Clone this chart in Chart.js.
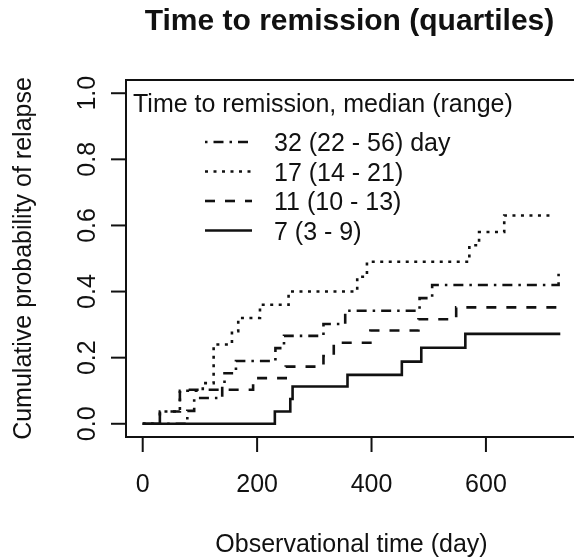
<!DOCTYPE html>
<html>
<head>
<meta charset="utf-8">
<title>Time to remission (quartiles)</title>
<script src="https://cdn.jsdelivr.net/npm/chart.js@4"></script>
<style>
  html, body { margin: 0; padding: 0; background: #fff; overflow: hidden; }
  #wrap { width: 574px; height: 560px; overflow: hidden; }
  canvas { display: block; }
</style>
</head>
<body>
<div id="wrap"><canvas id="kmChart" width="580" height="560"></canvas></div>
<script>
// index.html — cumulative relapse curves by time-to-remission quartile

// ─── Data ─────────────────────────────────────────────────────────────────────
const seriesLabels = ["32 (22 - 56) day", "17 (14 - 21)", "11 (10 - 13)", "7 (3 - 9)"];

const q4Times = [0, 78, 90, 139, 143, 163, 232, 247, 316, 354, 484, 506, 727];
const q4Prob  = [0, 0.039, 0.078, 0.115, 0.153, 0.19, 0.229, 0.266, 0.302, 0.342, 0.38, 0.42, 0.46];

const q3Times = [0, 30, 65, 105, 124, 156, 167, 205, 255, 375, 392, 571, 588, 632, 720];
const q3Prob  = [0, 0.037, 0.1, 0.123, 0.24, 0.28, 0.32, 0.36, 0.4, 0.445, 0.49, 0.54, 0.58, 0.63, 0.63];

const q2Times = [0, 30, 65, 193, 250, 316, 334, 398, 482, 548, 730];
const q2Prob  = [0, 0.037, 0.103, 0.138, 0.173, 0.205, 0.245, 0.282, 0.316, 0.352, 0.352];

const q1Times = [0, 231, 258, 262, 358, 453, 487, 564, 730];
const q1Prob  = [0, 0.037, 0.075, 0.113, 0.148, 0.188, 0.23, 0.272, 0.272];

const xTicks = [0, 200, 400, 600];
const xTickLabels = ["0", "200", "400", "600"];
const yTicks = [0, 0.2, 0.4, 0.6, 0.8, 1.0];
const yTickLabels = ["0.0", "0.2", "0.4", "0.6", "0.8", "1.0"];

const TITLE = "Time to remission (quartiles)";
const X_TITLE = "Observational time (day)";
const Y_TITLE = "Cumulative probability of relapse";
const LEGEND_TITLE = "Time to remission, median (range)";

// ─── Styles ───────────────────────────────────────────────────────────────────
const FONT = "'Liberation Sans', Arial, Helvetica, sans-serif";
const INK = "#111";
const DASHES = [[2.5, 6, 10, 6], [3, 5.5], [10, 10], []];

function toPoints(times, probs) {
  return times.map((t, i) => ({ x: t, y: probs[i] }));
}

const curves = [
  toPoints(q4Times, q4Prob),
  toPoints(q3Times, q3Prob),
  toPoints(q2Times, q2Prob),
  toPoints(q1Times, q1Prob),
];

// ─── Axes, box, titles and legend (R-style) ──────────────────────────────────
const rFrame = {
  id: "rFrame",
  afterDraw(chart) {
    const { ctx, chartArea: a, scales } = chart;
    const xs = scales.x, ys = scales.y;
    ctx.save();
    ctx.strokeStyle = INK;
    ctx.fillStyle = INK;
    ctx.lineWidth = 2;
    ctx.setLineDash([]);

    // box
    ctx.strokeRect(a.left, a.top, a.right - a.left, a.bottom - a.top);

    // x axis
    ctx.font = `25px ${FONT}`;
    ctx.textAlign = "center";
    ctx.textBaseline = "alphabetic";
    xTicks.forEach((v, i) => {
      const px = xs.getPixelForValue(v);
      ctx.beginPath();
      ctx.moveTo(px, a.bottom);
      ctx.lineTo(px, a.bottom + 15);
      ctx.stroke();
      ctx.fillText(xTickLabels[i], px, 492);
    });

    // y axis
    yTicks.forEach((v, i) => {
      const py = ys.getPixelForValue(v);
      ctx.beginPath();
      ctx.moveTo(a.left - 15, py);
      ctx.lineTo(a.left, py);
      ctx.stroke();
      ctx.save();
      ctx.translate(95, py);
      ctx.rotate(-Math.PI / 2);
      ctx.fillText(yTickLabels[i], 0, 0);
      ctx.restore();
    });

    // axis titles
    const midX = (a.left + a.right) / 2;
    const midY = (a.top + a.bottom) / 2;
    ctx.fillText(X_TITLE, midX, 552);
    ctx.save();
    ctx.translate(31, midY);
    ctx.rotate(-Math.PI / 2);
    ctx.fillText(Y_TITLE, 0, 0);
    ctx.restore();

    // main title
    ctx.font = `bold 30px ${FONT}`;
    ctx.fillText(TITLE, midX - 2, 30);

    // legend
    ctx.font = `25px ${FONT}`;
    ctx.textAlign = "left";
    ctx.fillText(LEGEND_TITLE, 133, 112);
    const rows = [151, 180.5, 210, 239.5];
    chart.data.datasets.forEach((ds, i) => {
      const cy = rows[i] - 9;
      ctx.save();
      ctx.lineWidth = ds.borderWidth;
      ctx.setLineDash(ds.borderDash);
      ctx.beginPath();
      ctx.moveTo(205, cy);
      ctx.lineTo(252, cy);
      ctx.stroke();
      ctx.restore();
      ctx.fillText(ds.label, 274, rows[i]);
    });
    ctx.restore();
  }
};

// ─── Chart ────────────────────────────────────────────────────────────────────
new Chart(document.getElementById("kmChart"), {
  type: "line",
  data: {
    datasets: curves.map((pts, i) => ({
      label: seriesLabels[i],
      data: pts,
      stepped: "before",
      borderColor: INK,
      borderWidth: 2.6,
      borderDash: DASHES[i],
      pointRadius: 0,
      fill: false,
    }))
  },
  options: {
    responsive: false,
    animation: false,
    layout: { padding: { left: 126, top: 80, right: 3, bottom: 123 } },
    plugins: { legend: { display: false }, tooltip: { enabled: false } },
    scales: {
      x: { type: "linear", min: -29.2, max: 759.2, display: false },
      y: { type: "linear", min: -0.04, max: 1.04, display: false }
    }
  },
  plugins: [rFrame]
});
</script>
</body>
</html>
